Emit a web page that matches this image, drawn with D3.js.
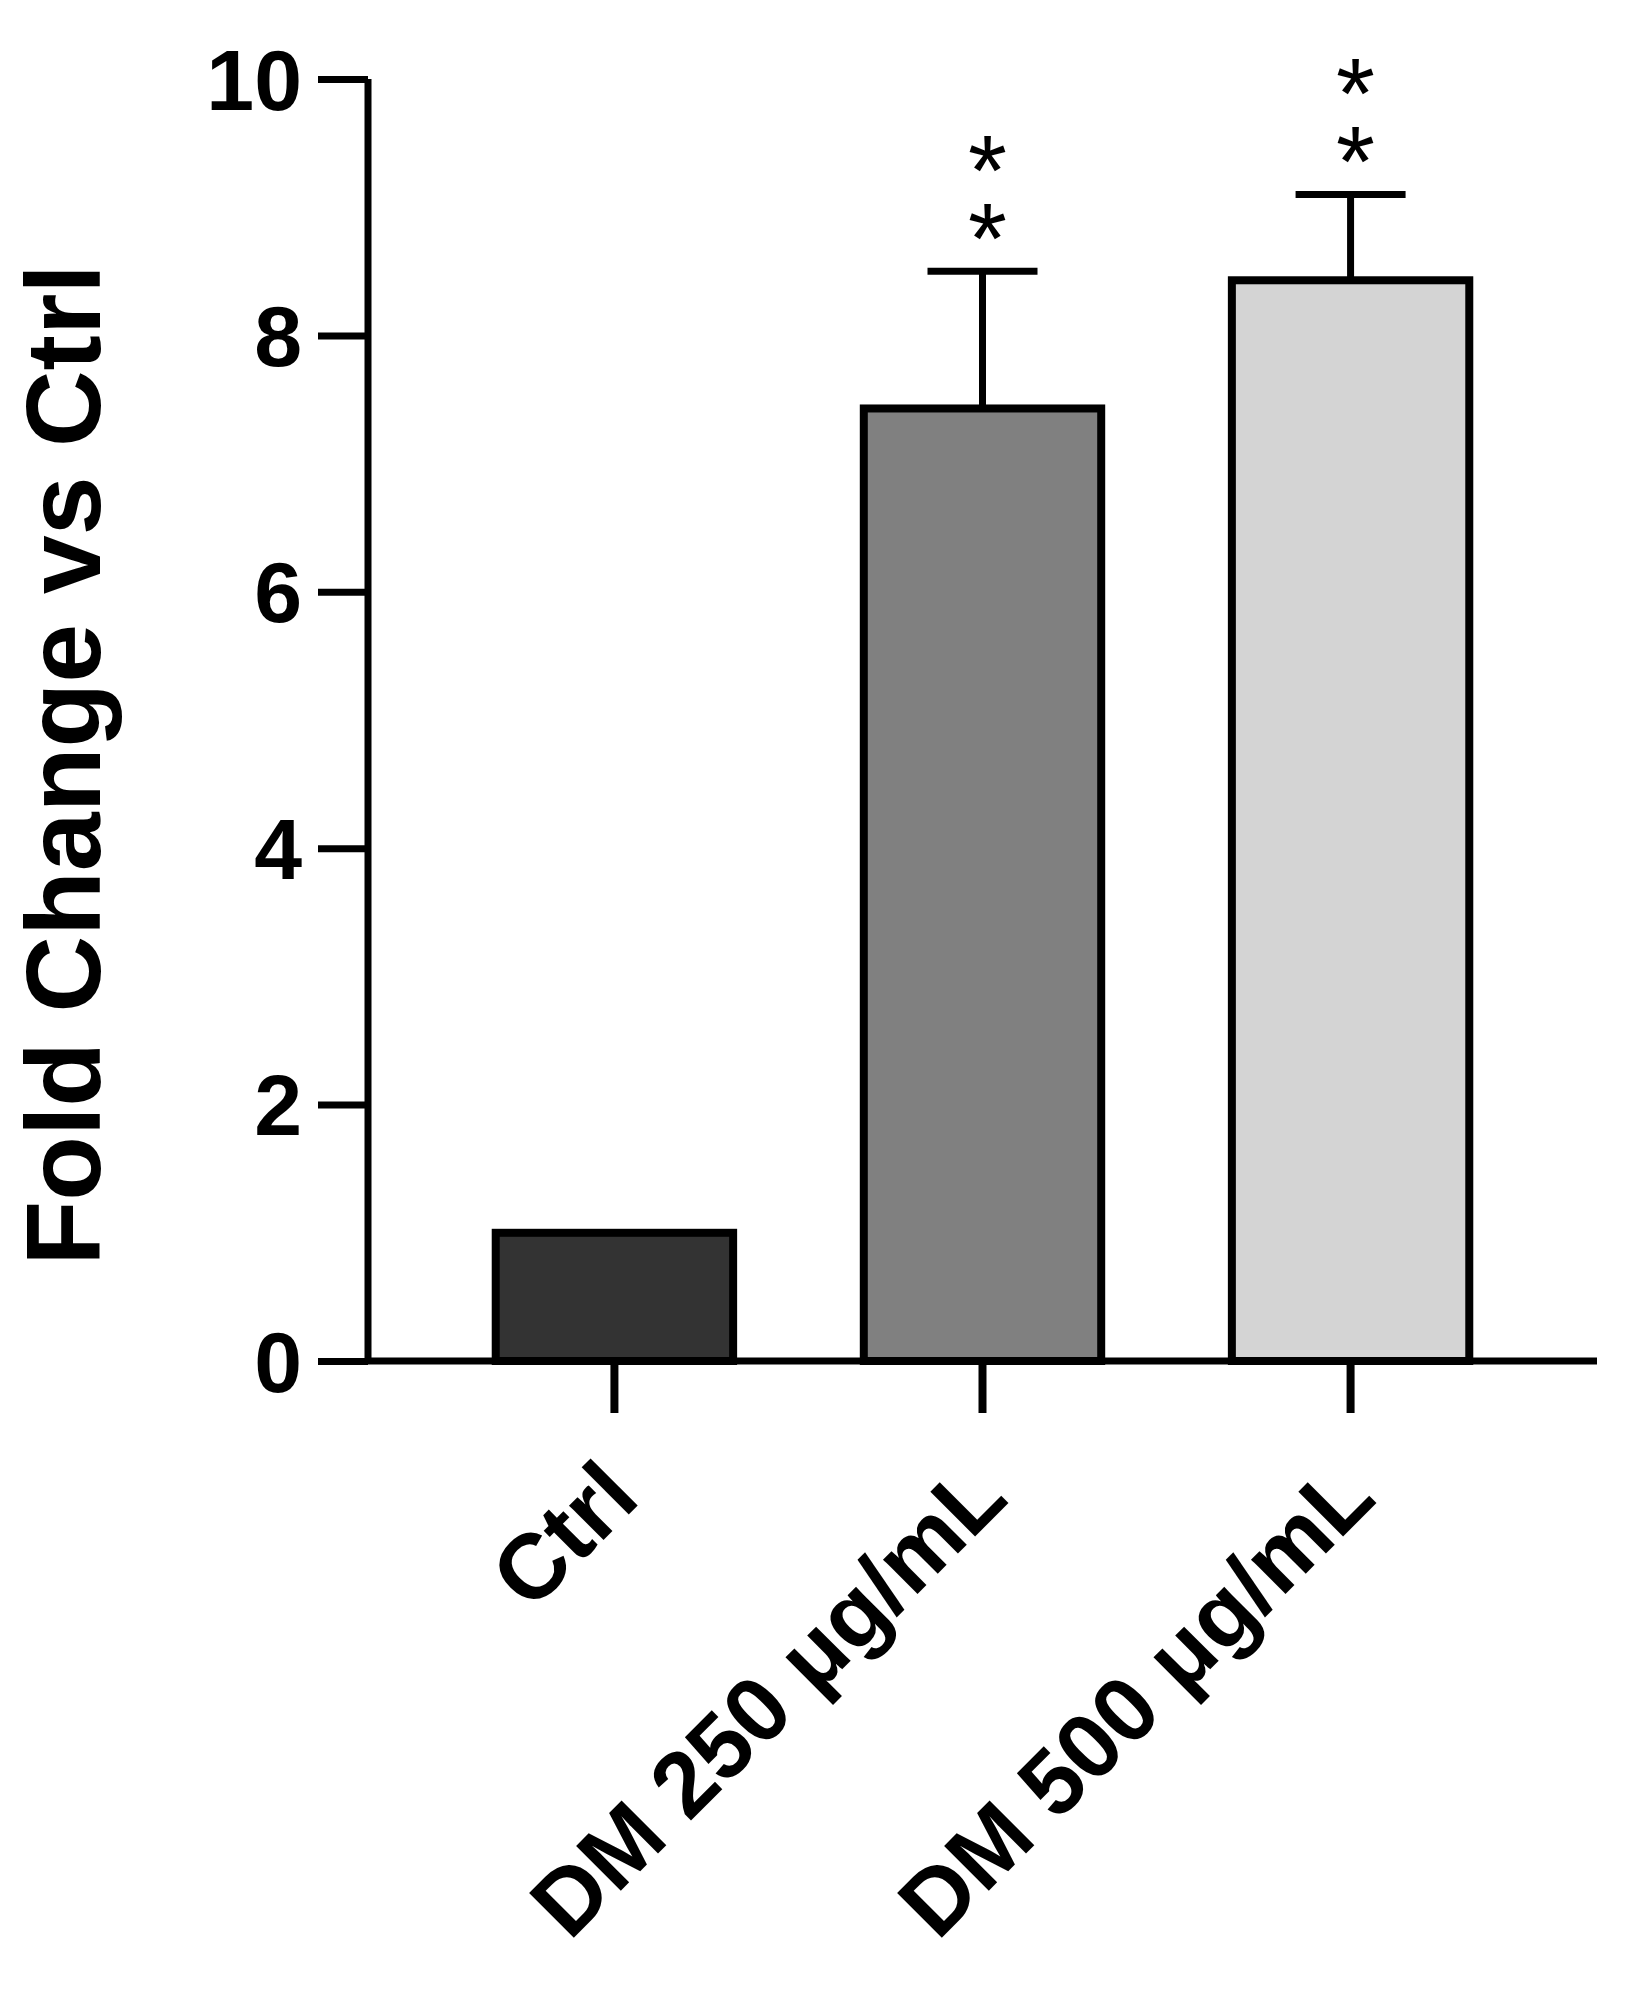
<!DOCTYPE html><html><head><meta charset="utf-8"><script src="https://cdn.jsdelivr.net/npm/d3@7"></script>
<style>body{margin:0;background:#fff}text{font-family:"Liberation Sans",Arial,sans-serif;font-weight:bold}</style></head><body>
<svg id="c" width="1626" height="2005"></svg>
<script>
const categories=["Ctrl","DM 250 μg/mL","DM 500 μg/mL"];
const values=[1.0,7.43,8.43];
const errors=[0,1.07,0.67];
const colors=["#333333","#808080","#d4d4d4"];
const stars=["","**","**"];
const yTicks=[0,2,4,6,8,10];
const svg=d3.select("#c");
const y=d3.scaleLinear().domain([0,10]).range([1361,79]);
const x=d3.scaleBand().domain(categories).range([368,1597]).paddingInner(0.355).paddingOuter(0.347);
const g=svg.append("g");
g.selectAll("rect").data(categories).join("rect")
 .attr("x",d=>x(d)).attr("width",x.bandwidth())
 .attr("y",(d,i)=>y(values[i])).attr("height",(d,i)=>y(0)-y(values[i]))
 .attr("fill",(d,i)=>colors[i]).attr("stroke","#000").attr("stroke-width",8);
categories.forEach((c,i)=>{if(!errors[i])return;const cx=x(c)+x.bandwidth()/2;const top=y(values[i]+errors[i]);
 g.append("line").attr("x1",cx).attr("x2",cx).attr("y1",y(values[i])).attr("y2",top).attr("stroke","#000").attr("stroke-width",7);
 g.append("line").attr("x1",cx-55).attr("x2",cx+55).attr("y1",top).attr("y2",top).attr("stroke","#000").attr("stroke-width",7);
 const s=stars[i].split("");
 s.forEach((ch,k)=>g.append("text").attr("x",cx+5).attr("y",top+2-(s.length-1-k)*68).attr("text-anchor","middle").attr("font-size",100).style("font-weight","normal").text(ch));
});
const ya=svg.append("g").attr("transform","translate(368,0)").call(d3.axisLeft(y).tickValues(yTicks).tickSize(50).tickPadding(16).tickFormat(d3.format("d")));
ya.select(".domain").attr("stroke-width",7).attr("d",`M0,${y(10)}V${y(0)}`);
ya.selectAll(".tick line").attr("stroke-width",7);
ya.selectAll(".tick text").attr("font-size",86).attr("fill","#000").style("font-family","Liberation Sans,Arial").style("font-weight","bold").attr("dy","0.35em");
const xa=svg.append("g").attr("transform",`translate(0,${y(0)})`).call(d3.axisBottom(x).tickSize(52).tickSizeOuter(0).tickFormat(""));
xa.select(".domain").attr("stroke-width",7).attr("d",`M368,0H1597`);
xa.selectAll(".tick line").attr("stroke-width",8);
categories.forEach(c=>{const cx=x(c)+x.bandwidth()/2;
 svg.append("text").attr("transform",`translate(${cx+28},${y(0)+140}) rotate(-45)`).attr("text-anchor","end").attr("font-size",92).text(c);});
svg.append("text").attr("transform",`translate(100,${(y(0)+y(10))/2+45}) rotate(-90)`).attr("text-anchor","middle").attr("font-size",106).text("Fold Change vs Ctrl");
</script></body></html>
